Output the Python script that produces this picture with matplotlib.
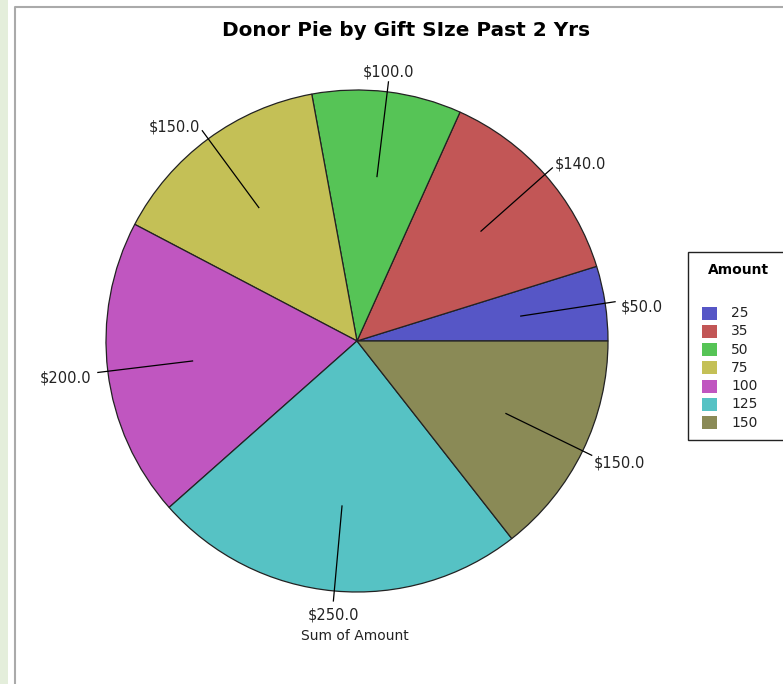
import numpy as np
import matplotlib
matplotlib.use("Agg")
import matplotlib.pyplot as plt
from matplotlib.patches import Rectangle

amounts = ["25", "35", "50", "75", "100", "125", "150"]
sums = [50.0, 140.0, 100.0, 150.0, 200.0, 250.0, 150.0]
colors = ["#5656c6", "#c25656", "#56c456", "#c4c056", "#c056c0", "#56c2c4", "#8a8a56"]

fig = plt.figure(figsize=(7.83, 6.84), dpi=100)
ax = fig.add_axes([0, 0, 1, 1])

cx, cy, R = 357, 684 - 341, 251
wedges, _ = ax.pie(sums, colors=colors, startangle=0, counterclock=True,
                   center=(cx, cy), radius=R, frame=False,
                   wedgeprops=dict(edgecolor="#222222", linewidth=0.9))

total = sum(sums)
start = 0.0
for v in sums:
    mid = np.deg2rad(start + v / total * 180.0)
    start += v / total * 360.0
    c, s = np.cos(mid), np.sin(mid)
    ex, ey = cx + 1.04 * R * c, cy + 1.04 * R * s
    ax.plot([cx + 0.66 * R * c, ex], [cy + 0.66 * R * s, ey], color="black", lw=0.9)
    ha = "left" if c > 0.3 else ("right" if c < -0.3 else "center")
    va = "bottom" if s > 0.3 else ("top" if s < -0.3 else "center_baseline")
    dx, dy = 0, 0
    if va == "center_baseline":
        dx = 6 if ha == "left" else -6
        dy = -4
    elif ha == "center":
        dy = 2 if va == "bottom" else -7
    else:
        dx = 2 if ha == "left" else -2
        dy = -4 if va == "bottom" else 0
    ax.text(ex + dx, ey + dy, "$%.1f" % v, ha=ha, va=va, fontsize=10.5, color="#222222")

ax.text(355, 48, "Sum of Amount", ha="center", va="center", fontsize=10, color="#222222")

ax.set_xlim(0, 783)
ax.set_ylim(0, 684)
ax.set_aspect("auto")
ax.axis("off")

# frame and side strip
ax.plot([15, 15, 783], [0, 677, 677], color="#aaaaaa", lw=1.5)
ax.add_patch(Rectangle((0, 0), 8, 684, facecolor="#e4eedb", edgecolor="none"))

fig.text(406 / 783, 1 - 30 / 684, "Donor Pie by Gift SIze Past 2 Yrs", ha="center", va="center",
         fontsize=14.4, fontweight="bold")

# legend
ax.add_patch(Rectangle((688, 684 - 440), 100, 188, facecolor="white", edgecolor="#222222", lw=1, clip_on=False))
ax.text(739, 684 - 270, "Amount", ha="center", va="center", fontsize=10, fontweight="bold")
for i, (a, col) in enumerate(zip(amounts, colors)):
    y = 684 - (313 + i * 18.3)
    ax.add_patch(Rectangle((702, y - 6.5), 15, 13, facecolor=col, edgecolor="none"))
    ax.text(731, y, a, ha="left", va="center", fontsize=10, color="#222222")

fig.savefig("out.png", dpi=100)
